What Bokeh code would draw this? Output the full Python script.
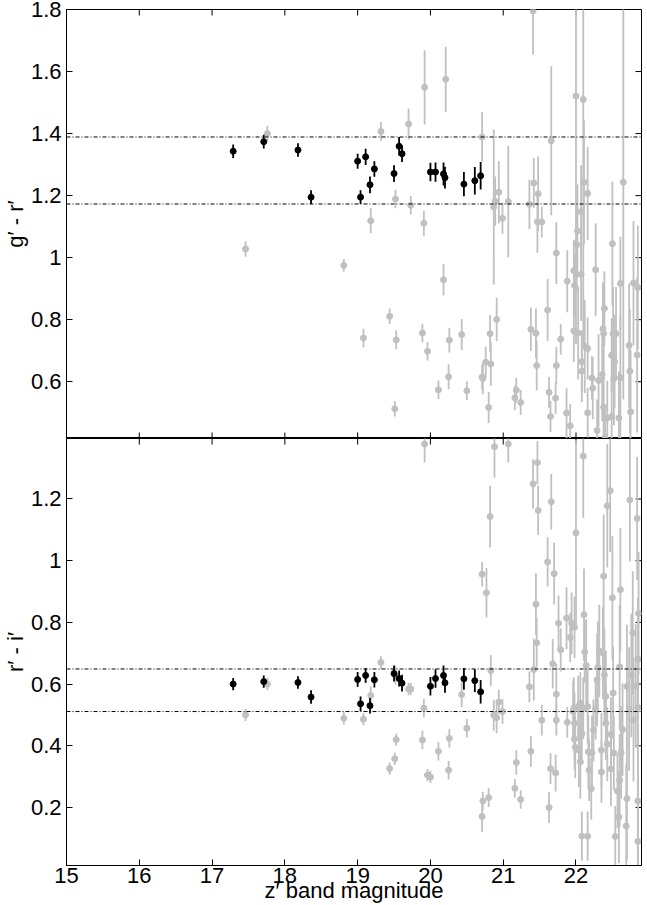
import numpy as np
from bokeh.plotting import figure
from bokeh.layouts import column
from bokeh.models import Span, FixedTicker, Range1d, ColumnDataSource, Title
from bokeh.embed import file_html
from bokeh.resources import INLINE

# ---------------- data ----------------
# cluster members (black)
mem_z = [17.29, 17.71, 18.18, 18.36, 19.00, 19.04, 19.11, 19.17, 19.23, 19.50,
         19.57, 19.61, 20.00, 20.07, 20.18, 20.20, 20.46, 20.61, 20.69]
mem_gr = [1.343, 1.374, 1.347, 1.195, 1.311, 1.195, 1.325, 1.235, 1.286, 1.271,
          1.359, 1.335, 1.276, 1.276, 1.270, 1.258, 1.237, 1.248, 1.264]
mem_gr_err = [0.022, 0.022, 0.022, 0.022, 0.024, 0.022, 0.026, 0.027, 0.025, 0.027,
              0.030, 0.027, 0.030, 0.031, 0.037, 0.035, 0.039, 0.044, 0.044]
mem_ri = [0.600, 0.608, 0.605, 0.558, 0.615, 0.536, 0.628, 0.530, 0.614, 0.634,
          0.618, 0.603, 0.593, 0.618, 0.628, 0.604, 0.617, 0.611, 0.575]
mem_ri_err = [0.020, 0.020, 0.020, 0.022, 0.024, 0.024, 0.024, 0.025, 0.025, 0.026,
              0.026, 0.027, 0.030, 0.030, 0.032, 0.032, 0.035, 0.037, 0.038]

# field objects, g'-r' panel (grey)
fld_gr_z = [17.46, 17.76, 18.81, 19.08, 19.18, 19.32, 19.44, 19.51, 19.52, 19.53,
            19.70, 19.73, 19.89, 19.91, 19.92, 19.96, 20.11, 20.18, 20.21, 20.25,
            20.26, 20.43, 20.50, 20.71, 20.71, 20.72, 20.76, 20.80, 20.82, 20.83,
            20.87, 20.89, 20.91, 20.94, 20.99, 21.07, 21.16, 21.18, 21.24, 21.36,
            21.38, 21.41, 21.42, 21.45, 21.46, 21.47, 21.48, 21.53, 21.61, 21.63,
            21.65, 21.66, 21.72, 21.73, 21.73, 21.79, 21.87, 21.88, 21.92, 21.97,
            21.98, 21.97, 22.00, 22.01, 22.02, 22.03, 22.07, 22.07, 22.08, 22.08,
            22.10, 22.11, 22.12, 22.16, 22.16, 22.16, 22.22, 22.23, 22.27, 22.29,
            22.31, 22.36, 22.37, 22.38, 22.39, 22.38, 22.40, 22.43, 22.49, 22.50,
            22.51, 22.52, 22.53, 22.55, 22.49, 22.59, 22.61, 22.61, 22.65, 22.73,
            22.75, 22.74, 22.79, 22.85, 22.84]
fld_gr = [1.028, 1.400, 0.975, 0.741, 1.119, 1.407, 0.811, 0.513, 1.189, 0.735,
          1.431, 1.169, 0.757, 1.111, 1.549, 0.698, 0.574, 0.929, 1.575, 0.616,
          0.734, 0.752, 0.571, 0.615, 1.389, 0.610, 0.663, 0.517, 0.755, 0.657,
          1.163, 1.182, 0.801, 1.211, 1.127, 1.181, 0.548, 0.573, 0.533, 1.172,
          0.769, 1.795, 1.241, 0.756, 0.652, 1.116, 1.206, 1.115, 0.831, 0.566,
          0.488, 1.377, 0.547, 0.652, 1.015, 0.737, 0.499, 0.924, 0.458, 0.958,
          0.910, 0.764, 1.521, 1.042, 1.086, 0.757, 0.946, 1.148, 0.665, 0.634,
          1.510, 1.243, 0.714, 1.207, 0.707, 0.500, 0.612, 0.579, 0.961, 0.443,
          0.604, 0.623, 0.771, 0.755, 0.836, 0.518, 0.421, 0.483, 0.685, 1.045,
          0.755, 0.610, 0.665, 0.755, 0.488, 0.483, 0.917, 0.613, 1.243, 0.717,
          0.503, 0.634, 0.918, 0.904, 0.686]
fld_gr_err = [0.025, 0.025, 0.020, 0.030, 0.040, 0.030, 0.025, 0.025, 0.030, 0.030,
              0.050, 0.030, 0.030, 0.040, 0.120, 0.030, 0.030, 0.050, 0.105, 0.040,
              0.040, 0.050, 0.030, 0.040, 0.080, 0.050, 0.050, 0.050, 0.060, 0.070,
              0.250, 0.080, 0.070, 0.100, 0.050, 0.180, 0.040, 0.040, 0.040, 0.080,
              0.070, 0.140, 0.080, 0.080, 0.080, 0.100, 0.120, 0.050, 0.100, 0.050,
              0.050, 0.240, 0.050, 0.060, 0.100, 0.050, 0.080, 0.100, 0.070, 0.100,
              0.100, 0.100, 0.800, 0.150, 0.150, 0.150, 0.150, 0.150, 0.100, 0.100,
              0.800, 0.200, 0.150, 0.150, 0.100, 0.080, 0.070, 0.100, 0.150, 0.100,
              0.150, 0.150, 0.150, 0.150, 0.120, 0.120, 0.100, 0.120, 0.120, 0.200,
              0.150, 0.150, 0.150, 0.150, 0.120, 0.150, 0.150, 0.200, 0.700, 0.200,
              0.200, 0.200, 0.200, 0.200, 0.250]

# field objects, r'-i' panel (grey)
fld_ri_z = [17.46, 17.76, 18.81, 19.08, 19.32, 19.18, 19.44, 19.51, 19.53, 19.52,
            19.70, 19.73, 19.89, 19.91, 19.92, 19.96, 20.00, 20.11, 20.25, 20.26,
            20.43, 20.50, 20.71, 20.71, 20.72, 20.77, 20.80, 20.82, 20.83, 20.88,
            20.87, 20.91, 20.94, 20.99, 21.07, 21.16, 21.18, 21.24, 21.36, 21.38,
            21.41, 21.42, 21.45, 21.46, 21.47, 21.48, 21.53, 21.61, 21.63, 21.65,
            21.66, 21.68, 21.70, 21.72, 21.73, 21.73, 21.76, 21.79, 21.87, 21.88,
            21.92, 21.94, 21.98, 22.00, 21.97, 21.98, 21.98, 21.99, 22.03, 22.04,
            22.06, 22.08, 22.08, 22.10, 22.11, 22.12, 22.14, 22.16, 22.16, 22.17,
            22.18, 22.21, 22.22, 22.24, 22.27, 22.29, 22.30, 22.32, 22.35, 22.35,
            22.37, 22.38, 22.39, 22.41, 22.41, 22.43, 22.43, 22.47, 22.48, 22.48,
            22.50, 22.51, 22.52, 22.54, 22.57, 22.59, 22.60, 22.61, 22.62, 22.64,
            22.60, 22.69, 22.70, 22.70, 22.74, 22.73, 22.76, 22.78, 22.79, 22.82,
            22.84, 22.85, 22.85, 22.85, 22.86, 22.85, 21.96, 22.06, 22.10]
fld_ri = [0.500, 0.600, 0.489, 0.486, 0.670, 0.563, 0.326, 0.358, 0.420, 0.628,
          0.584, 0.584, 0.419, 0.522, 1.378, 0.305, 0.299, 0.382, 0.321, 0.424,
          0.566, 0.457, 0.171, 0.956, 0.221, 0.896, 0.232, 1.143, 0.644, 1.369,
          0.499, 0.491, 0.542, 0.511, 1.378, 0.262, 0.346, 0.226, 0.591, 0.382,
          1.249, 0.647, 0.859, 0.734, 1.318, 1.163, 0.483, 0.996, 0.200, 0.326,
          1.191, 0.666, 0.958, 0.312, 0.483, 0.567, 0.797, 0.711, 0.814, 0.476,
          0.751, 0.797, 0.784, 1.090, 0.522, 0.473, 0.422, 0.395, 0.527, 0.386,
          0.348, 0.440, 0.107, 1.339, 0.825, 0.704, 0.660, 0.527, 0.107, 0.381,
          0.321, 0.261, 0.377, 0.450, 0.520, 0.614, 0.654, 0.707, 0.315, 0.386,
          0.701, 0.950, 0.630, 0.560, 0.473, 1.178, 0.405, 1.227, 0.437, 0.325,
          0.880, 0.571, 0.377, 0.106, 0.253, 0.169, 0.656, 0.906, 0.378, 0.453,
          0.288, 0.140, 0.229, 0.592, 1.197, 0.519, 0.628, 0.766, 0.484, 0.594,
          1.137, 0.221, 0.524, 0.090, 0.829, 0.681, 0.511, 0.538, 0.522]
fld_ri_err = [0.020, 0.020, 0.020, 0.020, 0.020, 0.030, 0.020, 0.020, 0.020, 0.030,
              0.020, 0.020, 0.030, 0.030, 0.060, 0.020, 0.020, 0.030, 0.030, 0.030,
              0.040, 0.030, 0.050, 0.040, 0.030, 0.080, 0.030, 0.100, 0.050, 0.100,
              0.050, 0.050, 0.040, 0.040, 0.060, 0.030, 0.040, 0.030, 0.050, 0.050,
              0.080, 0.100, 0.100, 0.080, 0.070, 0.080, 0.050, 0.080, 0.050, 0.050,
              0.090, 0.080, 0.100, 0.060, 0.050, 0.100, 0.090, 0.070, 0.100, 0.050,
              0.080, 0.100, 0.100, 0.300, 0.100, 0.100, 0.100, 0.100, 0.100, 0.120,
              0.120, 0.100, 0.080, 0.200, 0.150, 0.100, 0.150, 0.120, 0.080, 0.120,
              0.100, 0.100, 0.120, 0.100, 0.100, 0.150, 0.150, 0.150, 0.100, 0.120,
              0.150, 0.200, 0.150, 0.150, 0.120, 0.200, 0.120, 0.200, 0.120, 0.120,
              0.200, 0.150, 0.120, 0.100, 0.120, 0.150, 0.200, 0.200, 0.150, 0.150,
              0.150, 0.200, 0.200, 0.200, 0.200, 0.200, 0.200, 0.200, 0.200, 0.200,
              0.200, 0.250, 0.250, 0.200, 0.200, 0.200, 0.100, 0.100, 0.100]

gr_lines = [1.173, 1.389]
ri_lines = [0.511, 0.649]

x_ticks = [15, 16, 17, 18, 19, 20, 21, 22]
x_tick_labels = ["15", "16", "17", "18", "19", "20", "21", "22"]
gr_ticks = [0.6, 0.8, 1.0, 1.2, 1.4, 1.6, 1.8]
gr_tick_labels = ["0.6", "0.8", "1", "1.2", "1.4", "1.6", "1.8"]
ri_ticks = [0.2, 0.4, 0.6, 0.8, 1.0, 1.2]
ri_tick_labels = ["0.2", "0.4", "0.6", "0.8", "1", "1.2"]

X_RANGE = (15.0, 22.9)
GR_RANGE = (0.417, 1.8)
RI_RANGE = (0.012, 1.396)

FONT = "Liberation Sans"
GREY = "#c0c0c0"
TICK = 6          # inner tick length, px
FRAME_W = 575     # frame width, px


def style_axis(ax, ticks, labels):
    ax.ticker = FixedTicker(ticks=ticks)
    ax.major_tick_in = TICK
    ax.major_tick_out = 0
    ax.minor_tick_line_color = None
    ax.axis_line_color = "black"
    ax.major_tick_line_color = "black"
    ax.major_label_overrides = {t: l for t, l in zip(ticks, labels)}
    ax.major_label_text_font = FONT
    ax.major_label_text_font_size = "22px"
    ax.major_label_text_color = "black"
    ax.axis_label_text_font = FONT
    ax.axis_label_text_font_size = "22px"
    ax.axis_label_text_font_style = "normal"
    ax.axis_label_text_color = "black"


def inner_ticks(p, yr, yticks, frame_h, top, bottom):
    """Inward tick marks on the sides that carry no labels."""
    dy = TICK * (yr[1] - yr[0]) / frame_h
    dx = TICK * (X_RANGE[1] - X_RANGE[0]) / FRAME_W
    xs = np.array(x_ticks, dtype=float)
    ys = np.array(yticks, dtype=float)
    x0, y0, x1, y1 = [], [], [], []
    if top:
        x0 += list(xs); x1 += list(xs)
        y0 += [yr[1]] * len(xs); y1 += [yr[1] - dy] * len(xs)
    if bottom:
        x0 += list(xs); x1 += list(xs)
        y0 += [yr[0]] * len(xs); y1 += [yr[0] + dy] * len(xs)
    x0 += [X_RANGE[1]] * len(ys); x1 += [X_RANGE[1] - dx] * len(ys)
    y0 += list(ys); y1 += list(ys)
    p.segment(x0=x0, y0=y0, x1=x1, y1=y1, line_color="black", line_width=1)


def make_panel(height, yr, show_x, ylabel, yticks, ylabels,
               mz, my, me, fz, fy, fe, lines, frame_h):
    p = figure(width=645, height=height,
               x_range=Range1d(*X_RANGE), y_range=Range1d(*yr),
               x_axis_location="below" if show_x else None,
               output_backend="svg", toolbar_location=None,
               min_border_left=66, min_border_right=4,
               min_border_top=0 if show_x else 9,
               min_border_bottom=0)
    p.grid.grid_line_color = None
    p.outline_line_color = "black"
    p.outline_line_width = 1
    p.background_fill_color = "white"
    p.border_fill_color = "white"

    if show_x:
        xa = p.xaxis[0]
        style_axis(xa, x_ticks, x_tick_labels)
        xa.axis_label = "z\u2032 band magnitude"
        xa.major_label_standoff = 2
        xa.axis_label_standoff = -8

    ya = p.yaxis[0]
    style_axis(ya, yticks, ylabels)
    ya.major_label_standoff = 5

    # y-axis title as a side title, outside the tick labels
    p.add_layout(Title(text=ylabel, align="center", standoff=0,
                       text_font=FONT, text_font_size="22px",
                       text_font_style="normal", text_color="black"),
                 "left")

    inner_ticks(p, yr, yticks, frame_h, top=True, bottom=not show_x)

    for v in lines:
        p.add_layout(Span(location=v, dimension="width", line_color="black",
                          line_width=1, line_dash="4 2 1 2"))

    fsrc = ColumnDataSource(dict(x=fz, y=fy,
                                 lo=np.array(fy) - np.array(fe),
                                 hi=np.array(fy) + np.array(fe)))
    p.segment(x0="x", y0="lo", x1="x", y1="hi", source=fsrc,
              line_color=GREY, line_width=1.8)
    p.scatter(x="x", y="y", source=fsrc, size=6, fill_color=GREY,
              line_color=GREY)

    msrc = ColumnDataSource(dict(x=mz, y=my,
                                 lo=np.array(my) - np.array(me),
                                 hi=np.array(my) + np.array(me)))
    p.segment(x0="x", y0="lo", x1="x", y1="hi", source=msrc,
              line_color="black", line_width=1.8)
    p.scatter(x="x", y="y", source=msrc, size=6, fill_color="black",
              line_color="black")
    return p


p1 = make_panel(438, GR_RANGE, False, "g\u2032 - r\u2032",
                gr_ticks, gr_tick_labels,
                mem_z, mem_gr, mem_gr_err, fld_gr_z, fld_gr, fld_gr_err,
                gr_lines, 429)
p2 = make_panel(467, RI_RANGE, True, "r\u2032 - i\u2032",
                ri_ticks, ri_tick_labels,
                mem_z, mem_ri, mem_ri_err, fld_ri_z, fld_ri, fld_ri_err,
                ri_lines, 423)

layout = column(p1, p2, spacing=0)
open("out.html", "w").write(file_html(layout, INLINE))
